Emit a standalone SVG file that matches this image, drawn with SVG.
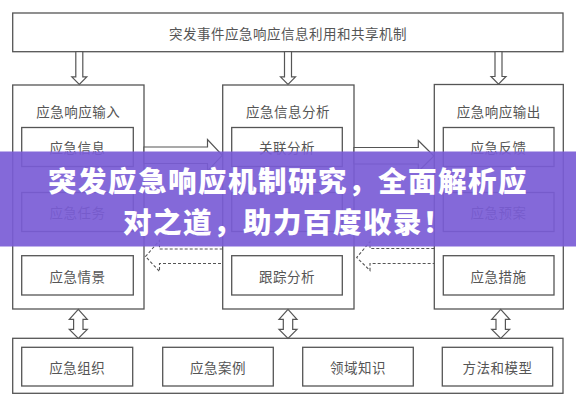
<svg xmlns="http://www.w3.org/2000/svg" width="576" height="400" viewBox="0 0 576 400">
<style>
.box{fill:#fff;stroke:#555;stroke-width:1.3}
.inner{fill:none;stroke:#555;stroke-width:1.3}
.t{font-family:"Noto Sans CJK SC","Noto Sans",sans-serif;font-size:13.5px;fill:#555;text-anchor:middle;dominant-baseline:central;letter-spacing:0.5px}
.arr{fill:#fff;stroke:#555;stroke-width:1.2}
.dash{fill:none;stroke:#555;stroke-width:1.1;stroke-dasharray:3 2}
.ban{font-family:"Noto Sans CJK SC","Noto Sans",sans-serif;font-size:28.5px;letter-spacing:1.5px;font-weight:900;fill:#fff;text-anchor:middle}
</style>
<rect width="576" height="400" fill="#fff"/>
<g id="top">
<rect class="box" x="12.7" y="13" width="550.3" height="38.7"/>
<text class="t" x="288" y="33">突发事件应急响应信息利用和共享机制</text>
</g>
<g id="col-input">
<rect class="box" x="12.7" y="85" width="131.3" height="224"/>
<text class="t" x="78.3" y="110.5">应急响应输入</text>
<rect class="inner" x="21.7" y="127.5" width="111.6" height="39"/>
<text class="t" x="77.5" y="147">应急信息</text>
<rect class="inner" x="21.7" y="192.5" width="111.6" height="39"/>
<text class="t" x="77.5" y="212">应急任务</text>
<rect class="inner" x="21.7" y="255.7" width="111.6" height="39.3"/>
<text class="t" x="77.5" y="275.5">应急情景</text>
</g>
<g id="col-analysis">
<rect class="box" x="222.7" y="85" width="131.3" height="224"/>
<text class="t" x="288" y="110.5">应急信息分析</text>
<rect class="inner" x="231.7" y="127.5" width="110.6" height="39"/>
<text class="t" x="287" y="147">关联分析</text>
<rect class="inner" x="231.7" y="192.5" width="110.6" height="39"/>
<rect class="inner" x="231.7" y="255.7" width="110.6" height="39.3"/>
<text class="t" x="287" y="275.5">跟踪分析</text>
</g>
<g id="col-output">
<rect class="box" x="434.3" y="84.5" width="129" height="224.5"/>
<text class="t" x="498.8" y="110.5">应急响应输出</text>
<rect class="inner" x="443.3" y="127.5" width="110.7" height="39"/>
<text class="t" x="498.6" y="147">应急反馈</text>
<rect class="inner" x="443.3" y="192.5" width="110.7" height="39"/>
<text class="t" x="498.6" y="212">应急预案</text>
<rect class="inner" x="443.3" y="255.7" width="110.7" height="39.3"/>
<text class="t" x="498.6" y="275.5">应急措施</text>
</g>
<g id="base">
<rect class="box" x="12.7" y="338.3" width="550.3" height="55"/>
<rect class="inner" x="21.7" y="347.3" width="111" height="38.7"/>
<text class="t" x="77.2" y="366.5">应急组织</text>
<rect class="inner" x="162.7" y="347.3" width="110.6" height="38.7"/>
<text class="t" x="218" y="366.5">应急案例</text>
<rect class="inner" x="302.7" y="347.3" width="110.6" height="38.7"/>
<text class="t" x="358" y="366.5">领域知识</text>
<rect class="inner" x="442.3" y="347.3" width="110.4" height="38.7"/>
<text class="t" x="497.5" y="366.5">方法和模型</text>
</g>
<g id="connectors">
<polygon class="arr" points="75.8,51.7 82.8,51.7 82.8,76.8 86.8,76.8 79.3,84.5 71.8,76.8 75.8,76.8"/>
<polygon class="arr" points="284.5,51.7 291.5,51.7 291.5,76.8 295.5,76.8 288,84.5 280.5,76.8 284.5,76.8"/>
<polygon class="arr" points="495,51.7 502,51.7 502,76.5 506,76.5 498.5,84.2 491,76.5 495,76.5"/>
<polygon class="arr" points="144,147 207.5,147 207.5,139.5 222.3,155.3 207.5,171 207.5,163.5 144,163.5"/>
<polygon class="arr" points="354,147.5 418.3,147.5 418.3,140.5 434,156 418.3,171.5 418.3,164 354,164"/>
<path class="dash" d="M222.7,249 H159.5 V240.5 L145.5,256.5 L159.5,271.5 V263.5 H222.7"/>
<path class="dash" d="M434.3,248.5 H370 V241.7 L356.7,257.5 L370,270.5 V263.5 H434.3"/>
<polygon class="arr" points="78.3,309.3 87.3,319.3 83,319.3 83,329.3 87.3,329.3 78.3,338.3 69.3,329.3 73.6,329.3 73.6,319.3 69.3,319.3"/>
<polygon class="arr" points="288,309.3 297,319.3 292.7,319.3 292.7,329.3 297,329.3 288,338.3 279,329.3 283.3,329.3 283.3,319.3 279,319.3"/>
<polygon class="arr" points="500.7,309.3 509.7,319.3 505.4,319.3 505.4,329.3 509.7,329.3 500.7,338.3 491.7,329.3 496,329.3 496,319.3 491.7,319.3"/>
</g>
<g id="banner">
<rect x="0" y="151.5" width="576" height="95" fill="rgb(122,92,214)" fill-opacity="0.92"/>
<text class="ban"><tspan x="288" y="191.5">突发应急响应机制研究，全面解析应</tspan><tspan x="288" y="233">对之道，助力百度收录！</tspan></text>
</g>
</svg>
